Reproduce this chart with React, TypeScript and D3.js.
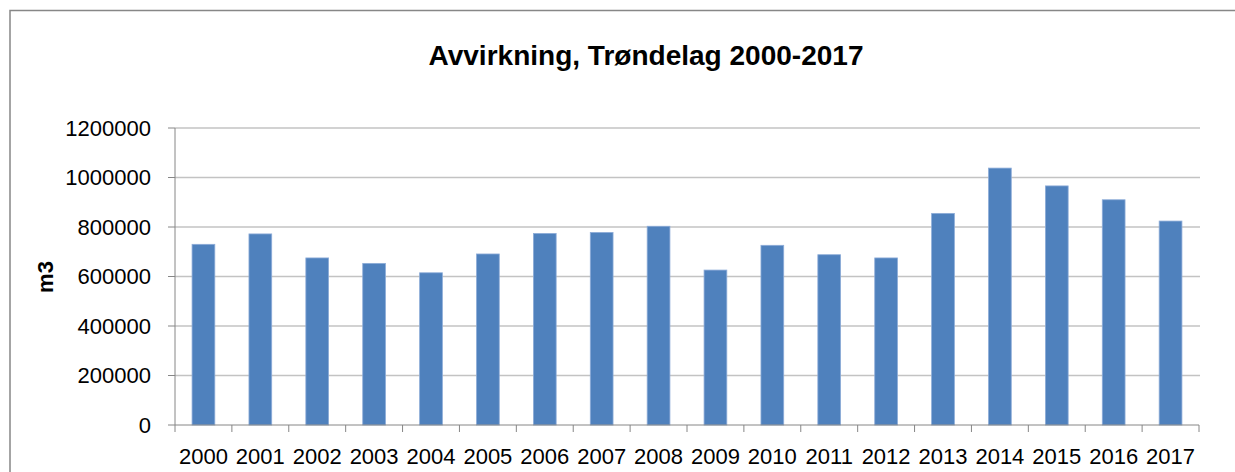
import React from "react";
import * as d3 from "d3";

const years = ["2000","2001","2002","2003","2004","2005","2006","2007","2008","2009","2010","2011","2012","2013","2014","2015","2016","2017"];
const values = [730000, 772000, 675000, 653000, 615000, 691000, 774000, 778000, 803000, 626000, 726000, 688000, 675000, 855000, 1038000, 966000, 910000, 824000];
const yTicks = [0, 200000, 400000, 600000, 800000, 1000000, 1200000];
const title = "Avvirkning, Trøndelag 2000-2017";
const yLabel = "m3";

export default function App() {
  const W = 1235, H = 472;
  const left = 175, right = 1199, top = 128, bottom = 425;
  const x = d3.scaleBand<string>().domain(years).range([left, right]).paddingInner(0).paddingOuter(0);
  const y = d3.scaleLinear().domain([0, 1200000]).range([bottom, top]);
  const bw = x.bandwidth() / 2.5;
  const font = "'Liberation Sans', Arial, sans-serif";
  const boundaries = years.map((d) => x(d)!).concat([right]);
  return (
    <svg width={W} height={H} style={{ position: "absolute", left: 0, top: 0, background: "#fff" }}>
      <rect x={0} y={0} width={W} height={H} fill="#fff" />
      <rect x={10} y={10.5} width={W + 20} height={H + 20} fill="#fff" stroke="#878787" strokeWidth={1.5} />
      <text x={646} y={65} textAnchor="middle" fontFamily={font} fontWeight="bold" fontSize={28} textLength={435} lengthAdjust="spacingAndGlyphs" fill="#000">{title}</text>
      {yTicks.map((t) => (
        <g key={t}>
          {t > 0 && <line x1={left} x2={right + 1} y1={y(t)} y2={y(t)} stroke="#c3c3c3" strokeWidth={1.5} />}
          <line x1={168} x2={left} y1={y(t)} y2={y(t)} stroke="#868686" strokeWidth={1} />
          <text x={151} y={y(t)} dy="0.36em" textAnchor="end" fontFamily={font} fontSize={22} fill="#000">{t}</text>
        </g>
      ))}
      {years.map((d, i) => (
        <rect key={d} x={x(d)! + (x.bandwidth() - bw) / 2} y={y(values[i])} width={bw} height={bottom - y(values[i])} fill="#4F81BD" stroke="#8DACD8" strokeWidth={0.8} />
      ))}
      <line x1={left} x2={left} y1={top} y2={bottom} stroke="#868686" strokeWidth={1} />
      <line x1={left} x2={right} y1={bottom} y2={bottom} stroke="#868686" strokeWidth={1} />
      {boundaries.map((b, i) => (
        <line key={i} x1={b} x2={b} y1={bottom} y2={432} stroke="#868686" strokeWidth={1} />
      ))}
      {years.map((d) => (
        <text key={d} x={x(d)! + x.bandwidth() / 2} y={464} textAnchor="middle" fontFamily={font} fontSize={22} fill="#000">{d}</text>
      ))}
      <text transform={`translate(53,277) rotate(-90)`} textAnchor="middle" fontFamily={font} fontWeight="bold" fontSize={22} fill="#000">{yLabel}</text>
    </svg>
  );
}
